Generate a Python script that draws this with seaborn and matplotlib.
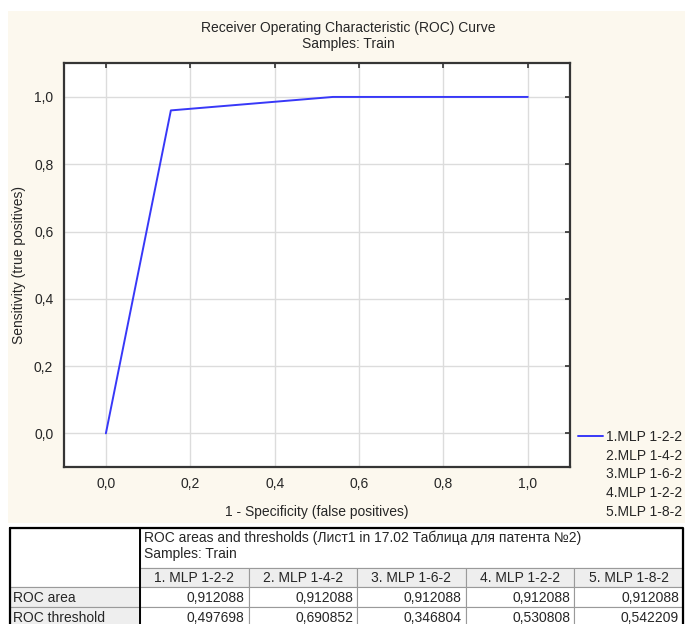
import matplotlib
matplotlib.use("Agg")
import matplotlib.pyplot as plt
from matplotlib.patches import Rectangle
from matplotlib.lines import Line2D
import seaborn as sns
import pandas as pd

# ---------------- data ----------------
fpr = [0.0, 0.154, 0.538, 1.0]
tpr = [0.0, 0.960, 1.0, 1.0]
model_names = ["1.MLP 1-2-2", "2.MLP 1-4-2", "3.MLP 1-6-2", "4.MLP 1-2-2", "5.MLP 1-8-2"]
table_cols = ["1. MLP 1-2-2", "2. MLP 1-4-2", "3. MLP 1-6-2", "4. MLP 1-2-2", "5. MLP 1-8-2"]
roc_area = ["0,912088", "0,912088", "0,912088", "0,912088", "0,912088"]
roc_threshold = ["0,497698", "0,690852", "0,346804", "0,530808", "0,542209"]
row_labels = ["ROC area", "ROC threshold"]
tick_vals = [0.0, 0.2, 0.4, 0.6, 0.8, 1.0]
tick_labels = ["0,0", "0,2", "0,4", "0,6", "0,8", "1,0"]
title1 = "Receiver Operating Characteristic (ROC) Curve"
title2 = "Samples: Train"
table_title1 = "ROC areas and thresholds (Лист1 in 17.02 Таблица для патента №2)"
table_title2 = "Samples: Train"

sns.set_style("white")
plt.rcParams["font.family"] = ["Liberation Sans", "DejaVu Sans"]
plt.rcParams["font.size"] = 10

W, H = 685, 624
fig = plt.figure(figsize=(W / 100, H / 100), dpi=100, facecolor="white")

CREAM = "#FCF8EE"
# cream panel behind chart
fig.patches.append(Rectangle((8 / W, 1 - 523 / H), (W - 8) / W, (523 - 11) / H,
                             transform=fig.transFigure, facecolor=CREAM,
                             edgecolor="none", zorder=-10))

# ---------------- chart ----------------
ax = fig.add_axes([63.7 / W, 1 - 467 / H, (570 - 63.7) / W, (467 - 63.3) / H], zorder=1)
ax.set_facecolor("white")
df = pd.DataFrame({"fpr": fpr, "tpr": tpr})
sns.lineplot(data=df, x="fpr", y="tpr", sort=False, color="#3838F8", lw=1.4,
             ax=ax, label=model_names[0], legend=False, zorder=3)
ax.set_xlim(-0.1, 1.1)
ax.set_ylim(-0.1, 1.1)
ax.set_xticks(tick_vals)
ax.set_xticklabels(tick_labels)
ax.set_yticks(tick_vals)
ax.set_yticklabels(tick_labels)
ax.grid(True, color="#DCDCDC", lw=1.0, zorder=0)
ax.set_axisbelow(True)
ax.tick_params(direction="in", length=3.5, width=1.2, color="#303030",
               top=True, right=True, labeltop=False, labelright=False,
               labelsize=10, pad=7.5)
for s in ax.spines.values():
    s.set_color("#353535")
    s.set_linewidth(1.6)
ax.set_xlabel("1 - Specificity (false positives)", fontsize=10)
ax.set_ylabel("Sensitivity (true positives)", fontsize=10)
ax.xaxis.set_label_coords(0.5, -0.093)
ax.yaxis.set_label_coords(-0.074, 0.5)

fig.text(348 / W, 1 - 28 / H, title1, ha="center", va="center", fontsize=10)
fig.text(348 / W, 1 - 44 / H, title2, ha="center", va="center", fontsize=10)

handles = [Line2D([], [], color="#3838F8", lw=1.4)] + \
          [Line2D([], [], color="none") for _ in model_names[1:]]
leg = fig.legend(handles, model_names, loc="upper left",
                 bbox_to_anchor=(578 / W, 1 - 430 / H), bbox_transform=fig.transFigure,
                 frameon=False, fontsize=10, handlelength=1.8, handletextpad=0.2,
                 labelspacing=0.34, borderpad=0, borderaxespad=0)

# ---------------- table ----------------
tax = fig.add_axes([0, 0, 1, 1], zorder=5)
tax.set_xlim(0, W)
tax.set_ylim(H, 0)
tax.axis("off")
tax.patch.set_alpha(0)

xb = [10, 140, 248.6, 357.2, 465.8, 574.4, 683]
yb = [528, 568, 587, 607, 627]
GRAY = "#EEEEEE"
LINE = "#9A9A9A"

def cell(x0, y0, x1, y1, fc):
    tax.add_patch(Rectangle((x0, y0), x1 - x0, y1 - y0, facecolor=fc,
                            edgecolor=LINE, lw=0.8, zorder=1))

# top-left blank cell spanning title + header rows
cell(xb[0], yb[0], xb[1], yb[2], "white")
# title cell
cell(xb[1], yb[0], xb[-1], yb[1], "white")
# header row
for i, name in enumerate(table_cols):
    cell(xb[i + 1], yb[1], xb[i + 2], yb[2], GRAY)
    tax.text((xb[i + 1] + xb[i + 2]) / 2, (yb[1] + yb[2]) / 2 + 1, name,
             ha="center", va="center", fontsize=10, zorder=3)
# body rows
rows = [roc_area, roc_threshold]
for r, (lab, vals) in enumerate(zip(row_labels, rows)):
    y0, y1 = yb[r + 2], yb[r + 3]
    cell(xb[0], y0, xb[1], y1, GRAY)
    tax.text(xb[0] + 3, (y0 + y1) / 2 + 1, lab, ha="left", va="center",
             fontsize=10, zorder=3)
    for i, v in enumerate(vals):
        cell(xb[i + 1], y0, xb[i + 2], y1, "white")
        tax.text(xb[i + 2] - 4, (y0 + y1) / 2 + 1, v, ha="right", va="center",
                 fontsize=10, zorder=3)

tax.text(xb[1] + 4, 538, table_title1, ha="left", va="center", fontsize=10, zorder=3)
tax.text(xb[1] + 4, 554, table_title2, ha="left", va="center", fontsize=10, zorder=3)

# heavy borders
tax.plot([xb[0], xb[-1], xb[-1], xb[0], xb[0]], [yb[0], yb[0], yb[-1], yb[-1], yb[0]],
         color="black", lw=1.6, zorder=4, clip_on=False)
tax.plot([xb[1], xb[1]], [yb[0], yb[-1]], color="black", lw=1.4, zorder=4)

fig.savefig("out.png", dpi=100, facecolor="white")
